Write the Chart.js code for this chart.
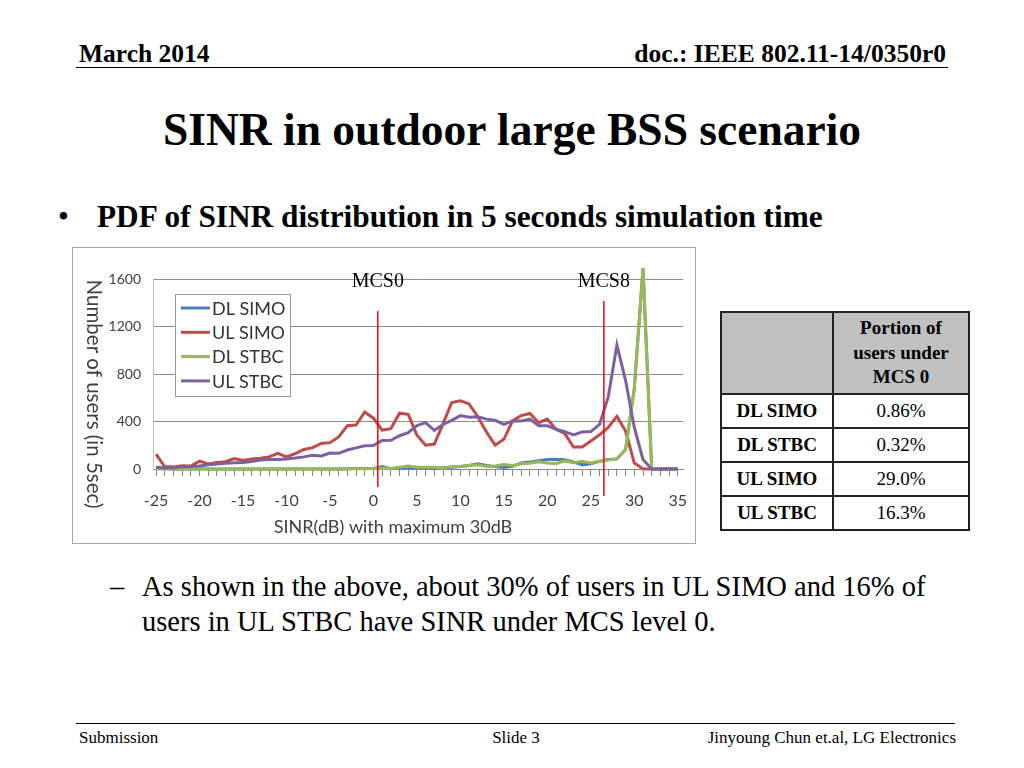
<!DOCTYPE html>
<html>
<head>
<meta charset="utf-8">
<script src="https://cdn.jsdelivr.net/npm/chart.js@4.4.1/dist/chart.umd.min.js"></script>
<style>
  body { margin: 0; width: 1024px; height: 768px; background: #fff; position: relative; overflow: hidden;
         font-family: "Liberation Serif", "Times New Roman", serif; color: #000; }
  .t { position: absolute; white-space: nowrap; line-height: 1; }
  .rule { position: absolute; height: 0; border-top: 1.5px solid #000; }
  #box { position: absolute; left: 72px; top: 247px; width: 622px; height: 295px; border: 1px solid #a6a6a6; }
  #box canvas { display: block; }
  table { position: absolute; left: 720px; top: 311px; border-collapse: collapse; font-size: 19px; }
  td { border: 2px solid #222; padding: 0; text-align: center; }
  tr.head td { background: #c0c0c0; height: 80px; font-weight: bold; line-height: 24.5px; }
  tr.row td { height: 32px; }
  td.name { width: 110px; font-weight: bold; }
  td.val { width: 134px; }
</style>
</head>
<body>
<div class="t" style="left:79px;top:41px;font-size:25.5px;font-weight:bold">March 2014</div>
<div class="t" style="right:78px;top:41px;font-size:25.5px;font-weight:bold">doc.: IEEE 802.11-14/0350r0</div>
<div class="rule" style="top:67px;left:76px;width:872px"></div>

<div class="t" style="left:0;width:1024px;text-align:center;top:107px;font-size:45.5px;font-weight:bold">SINR in outdoor large BSS scenario</div>

<div class="t" style="left:58px;top:201px;font-size:31px">&#8226;</div>
<div class="t" style="left:97px;top:201px;font-size:31.3px;font-weight:bold">PDF of SINR distribution in 5 seconds simulation time</div>

<div id="box"><canvas id="res-canvas" width="622" height="295"></canvas></div>

<table>
  <tr class="head"><td class="name"></td><td class="val">Portion of<br>users under<br>MCS 0</td></tr>
  <tr class="row"><td class="name">DL SIMO</td><td class="val">0.86%</td></tr>
  <tr class="row"><td class="name">DL STBC</td><td class="val">0.32%</td></tr>
  <tr class="row"><td class="name">UL SIMO</td><td class="val">29.0%</td></tr>
  <tr class="row"><td class="name">UL STBC</td><td class="val">16.3%</td></tr>
</table>

<div class="t" style="left:110px;top:573px;font-size:28.5px">&#8211;</div>
<div class="t" style="left:142px;top:573px;font-size:28.5px">As shown in the above, about 30% of users in UL SIMO and 16% of</div>
<div class="t" style="left:142px;top:608px;font-size:28.5px">users in UL STBC have SINR under MCS level 0.</div>

<div class="rule" style="top:723px;left:76px;width:879px"></div>
<div class="t" style="left:79px;top:729px;font-size:17px">Submission</div>
<div class="t" style="left:0;width:1032px;text-align:center;top:729px;font-size:17px">Slide 3</div>
<div class="t" style="right:68px;top:729px;font-size:17px">Jinyoung Chun et.al, LG Electronics</div>

<script>
// SINR bins in dB
const sinr = [-25, -24, -23, -22, -21, -20, -19, -18, -17, -16, -15, -14, -13, -12, -11, -10,
              -9, -8, -7, -6, -5, -4, -3, -2, -1, 0, 1, 2, 3, 4, 5, 6, 7, 8, 9, 10,
              11, 12, 13, 14, 15, 16, 17, 18, 19, 20, 21, 22, 23, 24, 25, 26, 27, 28, 29, 30,
              31, 32, 33, 34, 35];

const dlSimo = [10, 5, 0, 0, 0, 0, 0, 0, 0, 0, 0, 0, 0, 0, 0, 0,
                0, 0, 0, 0, 0, 0, 3, 5, 5, 5, 20, 3, 8, 10, 10, 10, 5, 10, 15, 22,
                30, 45, 30, 20, 12, 22, 50, 58, 70, 80, 83, 78, 60, 35, 45, 65, 80, 85, 165, 680,
                1690, 0, 0, 0, 0];

const ulSimo = [125, 18, 18, 28, 25, 66, 42, 55, 62, 88, 71, 84, 90, 102, 132, 102,
                130, 165, 180, 215, 222, 270, 365, 370, 480, 428, 328, 340, 470, 460, 285, 200, 210, 380, 560, 575,
                548, 440, 312, 200, 250, 405, 450, 468, 390, 420, 335, 300, 185, 185, 235, 287, 350, 443, 320, 50,
                3, 0, 0, 0, 0];

const dlStbc = [0, 0, 0, 0, 0, 0, 0, 0, 0, 0, 0, 0, 0, 0, 0, 0,
                0, 0, 0, 0, 0, 0, 2, 3, 3, 5, 8, 5, 15, 25, 15, 15, 15, 5, 22, 22,
                30, 35, 22, 25, 38, 30, 45, 48, 60, 50, 45, 68, 52, 65, 50, 68, 75, 85, 165, 680,
                1690, 0, 0, 0, 0];

const ulStbc = [14, 8, 10, 18, 20, 25, 35, 42, 48, 52, 55, 62, 75, 80, 80, 85,
                92, 102, 115, 110, 135, 132, 160, 178, 195, 197, 240, 242, 280, 305, 365, 390, 325, 375, 410, 450,
                435, 440, 420, 410, 375, 405, 405, 420, 365, 365, 335, 315, 287, 312, 315, 375, 605, 1045, 745, 350,
                80, 0, 0, 0, 0];

const yTicks = [0, 400, 800, 1200, 1600];

// MCS thresholds drawn over the chart (x in dB, line span in users)
const mcsNames = ['MCS0', 'MCS8'];
const mcsAt = [0.5, 26.5];
const mcsTop = [1330, 1415];
const mcsBottom = [-152, -227];

function points(arr) {
  return sinr.map((x, i) => ({ x: x, y: arr[i] }));
}

const chartFont = 'Lato, "Open Sans", sans-serif';

const overlay = {
  id: 'overlay',
  afterDatasetsDraw(chart) {
    const c = chart.ctx;
    const xs = chart.scales.x, ys = chart.scales.y;
    const area = chart.chartArea;
    c.save();

    // legend box inside the plot
    const lx = area.left + 22, ly = area.top + 15;
    c.fillStyle = '#fff';
    c.fillRect(lx, ly, 115, 102);
    c.strokeStyle = '#9a9a9a';
    c.lineWidth = 1;
    c.strokeRect(lx + 0.5, ly + 0.5, 115, 102);
    c.font = '18px ' + chartFont;
    c.textBaseline = 'middle';
    chart.data.datasets.forEach((ds, i) => {
      const yy = ly + 14 + i * 24.3;
      c.strokeStyle = ds.borderColor;
      c.lineWidth = 3;
      c.beginPath();
      c.moveTo(lx + 6, yy);
      c.lineTo(lx + 35, yy);
      c.stroke();
      c.fillStyle = '#333';
      c.textAlign = 'left';
      c.fillText(ds.label, lx + 37, yy + 1);
    });

    // MCS marker lines
    mcsNames.forEach((name, i) => {
      const px = xs.getPixelForValue(mcsAt[i]);
      c.strokeStyle = '#ff0000';
      c.lineWidth = 1.5;
      c.beginPath();
      c.moveTo(px, ys.getPixelForValue(mcsTop[i]));
      c.lineTo(px, ys.getPixelForValue(mcsBottom[i]));
      c.stroke();
      c.fillStyle = '#000';
      c.font = '20px "Liberation Serif", serif';
      c.textAlign = 'center';
      c.textBaseline = 'middle';
      c.fillText(name, px, ys.getPixelForValue(1600) + 3);
    });

    // axis titles
    c.fillStyle = '#404040';
    c.textAlign = 'center';
    c.textBaseline = 'middle';
    c.font = '18px ' + chartFont;
    c.fillText('SINR(dB) with maximum 30dB', 320, 279);
    c.translate(21, 146);
    c.rotate(Math.PI / 2);
    c.font = '20.5px ' + chartFont;
    c.fillText('Number of users (in 5sec)', 0, 0);
    c.restore();
  }
};

const ctx = document.getElementById('res-canvas').getContext('2d');
new Chart(ctx, {
  type: 'line',
  data: {
    datasets: [
      { label: 'DL SIMO', data: points(dlSimo), borderColor: '#4a7ebb', order: 3 },
      { label: 'UL SIMO', data: points(ulSimo), borderColor: '#be4b48', order: 2 },
      { label: 'DL STBC', data: points(dlStbc), borderColor: '#98b954', order: 1 },
      { label: 'UL STBC', data: points(ulStbc), borderColor: '#7d60a0', order: 0 }
    ]
  },
  options: {
    responsive: false,
    animation: false,
    layout: { padding: { top: 31, right: 12, left: 0, bottom: 0 } },
    elements: {
      line: { borderWidth: 3, tension: 0, fill: false },
      point: { radius: 0 }
    },
    datasets: { line: { clip: false } },
    plugins: { legend: { display: false }, tooltip: { enabled: false } },
    scales: {
      x: {
        type: 'linear',
        min: -25.35,
        max: 35.6,
        afterBuildTicks: s => { s.ticks = sinr.map(v => ({ value: v })); },
        afterFit: s => { s.height = 74; s.paddingLeft = 0; s.paddingRight = 0; },
        ticks: {
          autoSkip: false, maxRotation: 0, padding: 15,
          color: '#404040', font: { family: chartFont, size: 16 },
          callback: v => (v % 5 === 0 ? String(v) : '')
        },
        grid: { drawOnChartArea: false, drawTicks: true, tickLength: 7, color: '#868686' },
        border: { color: '#868686' }
      },
      y: {
        min: 0,
        max: 1600,
        afterBuildTicks: s => { s.ticks = yTicks.map(v => ({ value: v })); },
        afterFit: s => { s.width = 80; s.paddingTop = 0; s.paddingBottom = 0; },
        ticks: {
          padding: 12, color: '#404040', font: { family: chartFont, size: 14 },
          callback: v => String(v)
        },
        grid: { drawTicks: false, color: '#8c8c8c' },
        border: { color: '#bfbfbf' }
      }
    }
  },
  plugins: [overlay]
});
</script>
</body>
</html>
